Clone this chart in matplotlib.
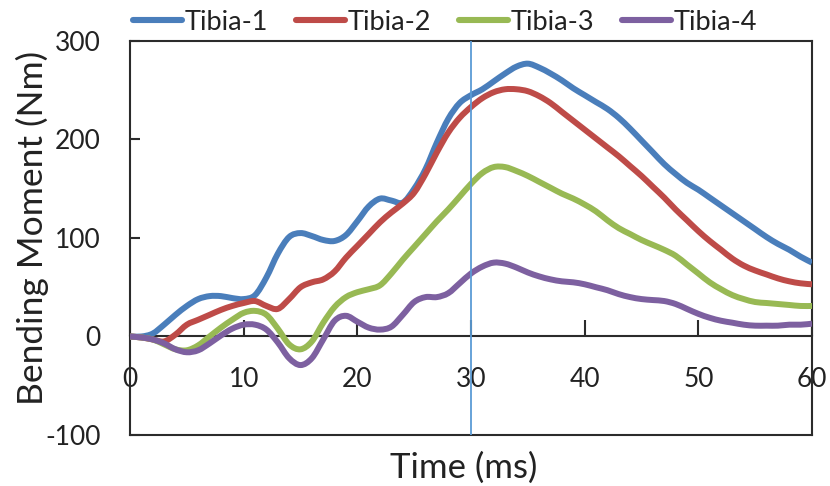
import matplotlib
matplotlib.use("Agg")
import matplotlib.pyplot as plt
from matplotlib.path import Path
from matplotlib.patches import PathPatch
from matplotlib.lines import Line2D

plt.rcParams['font.family'] = ['Lato', 'DejaVu Sans']
plt.rcParams['axes.unicode_minus'] = False

time_ms = list(range(0, 61))
tibia1 = [0, 0, 3, 12, 22, 31, 38, 41, 41, 39, 38, 42, 60, 84, 101, 105, 102, 98, 97, 103,
          117, 132, 140, 138, 136, 150, 170, 197, 221, 237, 245, 251, 259, 267, 274, 277,
          273, 267, 260, 252, 245, 238, 231, 222, 211, 199, 187, 175, 165, 156, 149, 141,
          133, 125, 117, 109, 101, 94, 88, 81, 75]
tibia2 = [0, -1, -3, -5, 2, 12, 17, 22, 27, 31, 34, 36, 31, 28, 38, 50, 55, 58, 66, 80,
          92, 104, 116, 126, 135, 146, 165, 187, 207, 222, 233, 242, 248, 251, 251, 249,
          244, 237, 228, 219, 210, 201, 192, 183, 173, 163, 152, 141, 129, 118, 107, 97,
          88, 79, 72, 67, 63, 59, 56, 54, 53]
tibia3 = [0, -1, -3, -8, -13, -14, -9, 0, 9, 17, 24, 26, 22, 8, -8, -13, -5, 14, 30, 40,
          45, 48, 52, 64, 78, 91, 104, 117, 129, 142, 155, 166, 172, 172, 168, 163,
          157, 151, 145, 140, 134, 127, 118, 110, 104, 98, 93, 88, 82, 73, 64, 55,
          48, 42, 38, 35, 34, 33, 32, 31, 31]
tibia4 = [0, -1, -3, -7, -13, -16, -14, -7, 1, 8, 12, 12, 7, -6, -22, -29, -22, -3, 16, 21,
          15, 9, 7, 10, 22, 35, 40, 40, 44, 54, 64, 71, 75, 74, 70, 65,
          61, 58, 56, 55, 53, 50, 47, 43, 40, 38, 37, 36, 33, 28, 23, 19,
          16, 14, 12, 11, 11, 11, 12, 12, 13]
series_names = ['Tibia-1', 'Tibia-2', 'Tibia-3', 'Tibia-4']
series_colors = ['#4a7ebb', '#be4b48', '#98b954', '#7d60a0']
marker_time = 30
x_ticks = [0, 10, 20, 30, 40, 50, 60]
y_ticks = [-100, 0, 100, 200, 300]


def smooth_path(xs, ys):
    """Smoothed line (like a spreadsheet 'smoothed line') through the data points."""
    n = len(xs)
    verts = [(xs[0], ys[0])]
    codes = [Path.MOVETO]
    for i in range(n - 1):
        x0, y0 = (xs[i - 1], ys[i - 1]) if i > 0 else (xs[i], ys[i])
        x1, y1 = xs[i], ys[i]
        x2, y2 = xs[i + 1], ys[i + 1]
        x3, y3 = (xs[i + 2], ys[i + 2]) if i + 2 < n else (xs[i + 1], ys[i + 1])
        c1 = (x1 + (x2 - x0) / 6.0, y1 + (y2 - y0) / 6.0)
        c2 = (x2 - (x3 - x1) / 6.0, y2 - (y3 - y1) / 6.0)
        verts += [c1, c2, (x2, y2)]
        codes += [Path.CURVE4] * 3
    return Path(verts, codes)


fig = plt.figure(figsize=(8.3, 4.86), dpi=100)
ax = fig.add_axes([0.15663, 0.10494, 0.82169, 0.81070])

handles = []
for vals, name, col in zip([tibia1, tibia2, tibia3, tibia4], series_names, series_colors):
    patch = PathPatch(smooth_path(time_ms, vals), facecolor='none', edgecolor=col, lw=4.3,
                      capstyle='butt', joinstyle='round', transform=ax.transData, zorder=3)
    ax.add_patch(patch)
    handles.append(Line2D([], [], color=col, lw=4.4, solid_capstyle='round', label=name))

ax.axvline(marker_time, color='#5b9bd5', lw=1.3, zorder=4)

ax.set_xlim(0, 60)
ax.set_ylim(-100, 300)
ax.set_xticks(x_ticks)
ax.set_yticks(y_ticks)

frame_col = '#2b2b2b'
for s in ax.spines.values():
    s.set_color(frame_col)
    s.set_linewidth(1.5)
    s.set_zorder(2)
ax.spines['bottom'].set_position(('data', 0))
ax.plot([0, 1], [0, 0], transform=ax.transAxes, color=frame_col, lw=1.5, clip_on=False,
        zorder=2, solid_capstyle='projecting')

ax.tick_params(axis='both', direction='in', width=1.5, color=frame_col,
               labelsize=19, labelcolor='#222222')
ax.tick_params(axis='x', length=11.5, pad=22)
ax.tick_params(axis='y', length=7.2, pad=21)

ax.set_xlabel('Time (ms)', fontsize=25, color='#222222')
ax.set_ylabel('Bending Moment (Nm)', fontsize=25.5, color='#222222')
ax.xaxis.set_label_coords(0.49, -0.041)
ax.yaxis.set_label_coords(-0.119, 0.525)

fig.legend(handles=handles, loc='center left', bbox_to_anchor=(0.160, 0.954), ncol=4,
           frameon=False, fontsize=19.5, handlelength=1.8, handletextpad=0.11,
           columnspacing=1.03, borderpad=0, borderaxespad=0, labelcolor='#222222')

fig.savefig('out.png', dpi=100)
